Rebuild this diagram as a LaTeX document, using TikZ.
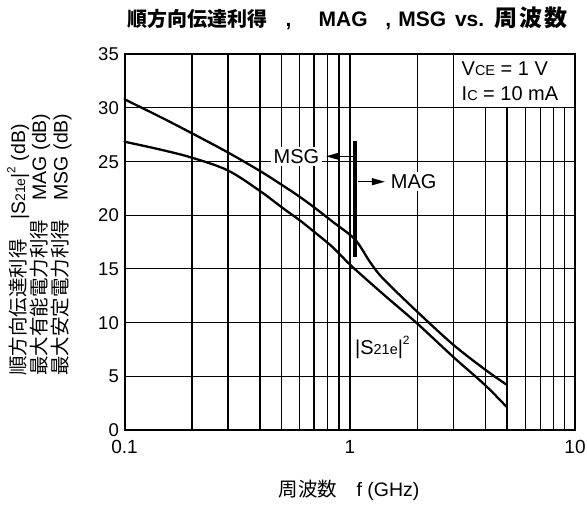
\documentclass[tikz,border=0pt]{standalone}
\usepackage{fontspec}
\setmainfont{Liberation Sans}
\newfontfamily\jp{Noto Sans CJK JP}
\usetikzlibrary{arrows.meta}
\newcommand\fsz[1]{\fontsize{#1}{#1}\selectfont}
\newcommand\rsub[1]{\scalebox{0.72}{#1}}
\newcommand\supr[1]{\raisebox{0.5em}{\scalebox{0.6}{#1}}}
\begin{document}
\begin{tikzpicture}[x=1pt,y=-1pt,
  grid/.style={line width=1.2pt},
  frame/.style={line width=2pt},
  curve/.style={line width=2.3pt, line join=round, line cap=round},
  lbl/.style={inner sep=0pt, font=\fsz{20}},
  boxed/.style={lbl, fill=white, inner xsep=2.5pt, inner ysep=2.5pt},
  ytick/.style={inner sep=0pt, font=\fsz{18.5}, anchor=base east},
  xtick/.style={inner sep=0pt, font=\fsz{19}, anchor=base},
  ylab/.style={inner sep=0pt, rotate=90, anchor=base west, font=\fsz{19.5}},
  pointer/.style={line width=1.2pt, -{Triangle[length=13pt,width=7pt]}},
]
\useasboundingbox (0,0) rectangle (587,506);
\fill[white] (0,0) rectangle (587,506);

% horizontal grid
\foreach \d in {5,10,...,30}
  \draw[grid] (124.5,{430-10.743*\d}) -- (575,{430-10.743*\d});
% vertical grid, full height
\foreach \x in {192,228,260,281.5,299.5,314,327.5,339,350,417.5,453.3}
  \draw[grid] (\x,54) -- (\x,430);
% vertical grid below the legend box
\foreach \x in {485.5,507,525.3,540.5,553.8,564.8}
  \draw[grid] (\x,107.7) -- (\x,430);
% frame
\draw[frame] (124.5,54) rectangle (575,430);

% curves
\draw[curve] plot[smooth, tension=0.55] coordinates {
  (124.5,99.3) (160,116.8) (192,133.3) (228,152.5) (260,171) (282,185)
  (300,197) (315,208) (333,222) (355,239.5) (370,262) (383,278.5)
  (417,311.5) (453,344.5) (485,369.5) (507,385)};
\draw[curve] plot[smooth, tension=0.55] coordinates {
  (124.5,141.7) (160,149.5) (192,157.7) (228,170.5) (260,191) (282,207.5)
  (300,220.5) (315,232.5) (333,247.5) (351.5,266) (383,294)
  (417,323.3) (453,356.7) (485,385) (507,407.3)};

% MSG / MAG boundary bar
\coordinate (bartop) at (355,140.5);
\coordinate (barbot) at (355,256.7);
\draw[line width=4pt] (bartop) -- (barbot);

\node[boxed] (msg) at (296.5,156.3) {MSG};
\node[boxed] (mag) at (413.7,181.7) {MAG};
\coordinate (msgfrom) at (353,156.3);
\coordinate (magfrom) at (357.5,181.7);
\draw[pointer, shorten >=4pt] (msgfrom) -- (msg.east);
\draw[pointer, shorten >=3.3pt] (magfrom) -- (mag.west);

\node[lbl, anchor=base west] (s21) at (355,354) {|S\rsub{21e}|\supr{2}};

% legend
\node[lbl, anchor=base west] (vce) at (461.5,75.7) {V\rsub{CE} = 1 V};
\node[lbl, anchor=base west] (ic) at (461.5,100) {I\rsub{C} = 10 mA};

% ticks
\foreach \d in {0,5,...,35}
  \node[ytick] (yt\d) at (119,{430-10.743*\d+6.6}) {\d};
\node[xtick] (xt1) at (124.5,453) {0.1};
\node[xtick] (xt2) at (350,453) {1};
\node[xtick] (xt3) at (575,453) {10};

% axis labels
\node[inner sep=0pt, anchor=base, font=\fsz{19.5}] (xlab) at (349,496.5) {{\jp 周波数　}f (GHz)};
\node[ylab] (ylab1) at (25,376) {{\jp 順方向伝達利得　}|S\rsub{21e}|\supr{2} (dB)};
\node[ylab] (ylab2) at (46,376) {{\jp 最大有能電力利得　}MAG (dB)};
\node[ylab] (ylab3) at (67.5,376) {{\jp 最大安定電力利得　}MSG (dB)};

% title
\node[inner sep=0pt, anchor=base west, font=\bfseries] (title) at (127.5,26.3)
  {{\jp\fsz{20}順方向伝達利得}\kern18pt{\fsz{21},}\kern27.2pt{\fsz{21}MAG}\kern17.7pt{\fsz{21},}\kern7pt{\fsz{21}MSG}\kern8.9pt{\fsz{21}vs.}\kern10pt{\jp\fsz{23}周\kern2pt 波\kern2pt 数}};
\end{tikzpicture}
\end{document}
